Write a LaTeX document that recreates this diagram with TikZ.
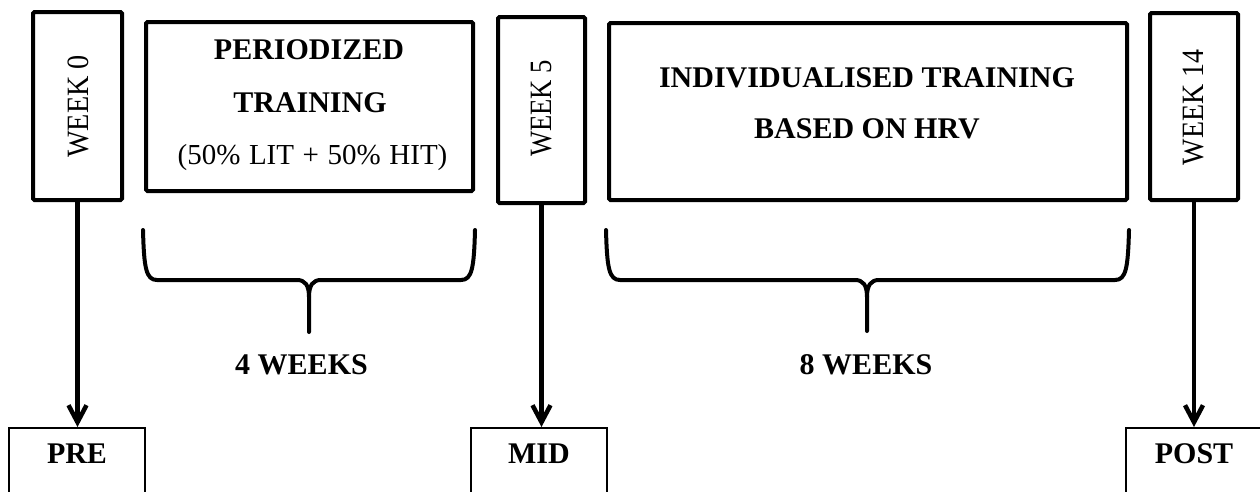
\documentclass[tikz,border=0pt]{standalone}
\usepackage{fontspec}
\setmainfont{Liberation Serif}
\usetikzlibrary{arrows.meta}
\begin{document}
\begin{tikzpicture}[x=1pt,y=-1pt,
  thickbox/.style={draw, line width=4pt, rounded corners=1.5pt, inner sep=0pt},
  btxt/.style={font=\fontsize{30}{36}\selectfont\bfseries, inner sep=0pt, anchor=base},
  rtxt/.style={font=\fontsize{29}{34}\selectfont, inner sep=0pt, anchor=base},
  wtxt/.style={font=\fontsize{31}{36}\selectfont, inner sep=0pt, rotate=90},
  botbox/.style={draw, line width=1.5pt, minimum width=136pt, anchor=north,
    font=\fontsize{30}{36}\selectfont\bfseries, text height=19pt, text depth=80pt,
    inner ysep=17pt, inner xsep=0pt},
  arr/.style={line width=4.5pt, -{Straight Barb[length=17pt,width=18pt]}},
  brace/.style={line width=4pt, line cap=round, line join=round}]
\path[use as bounding box] (0,0) rectangle (1260,491);
\clip (0,0) rectangle (1260,491);

% top boxes
\node[thickbox, minimum width=89pt, minimum height=188pt] (w0) at (77.5,106) {};
\node[wtxt] (w0t) at (78.5,106.5) {\scalebox{0.91}[1]{WEEK 0}};

\node[thickbox, minimum width=327pt, minimum height=169pt] (per) at (309.5,106.5) {};
\node[btxt] (per1) at (309,59) {PERIODIZED};
\node[btxt] (per2) at (310,112) {TRAINING};
\node[rtxt] (per3) at (312.5,164) {\spaceskip=8.6pt\relax (50\% LIT + 50\% HIT)};

\node[thickbox, minimum width=87pt, minimum height=186pt] (w5) at (541.5,110) {};
\node[wtxt] (w5t) at (542,108.5) {\scalebox{0.86}[1]{WEEK 5}};

\node[thickbox, minimum width=518pt, minimum height=177pt] (ind) at (868,111.5) {};
\node[btxt] (ind1) at (867,87) {INDIVIDUALISED TRAINING};
\node[btxt] (ind2) at (867,138) {BASED ON HRV};

\node[thickbox, minimum width=88pt, minimum height=187pt] (w14) at (1194,106.5) {};
\node[wtxt] (w14t) at (1193.5,107.5) {\scalebox{0.9}[1]{WEEK 14}};

% bottom boxes
\node[botbox] (pre) at (77,427) {PRE};
\node[botbox] (mid) at (539,427) {MID};
\node[botbox] (post) at (1194,427) {POST};

% arrows
\draw[arr] (w0.south) -- (w0.south |- pre.north);
\draw[arr] (w5.south) -- (w5.south |- mid.north);
\draw[arr] (w14.south) -- (w14.south |- post.north);

% braces
\draw[brace] (143,230) .. controls (144,268) and (146,280) .. (157,280) -- (297,280)
  .. controls (305,280) and (309,285) .. (309,297) -- (309,332);
\draw[brace] (475,230) .. controls (474,268) and (472,280) .. (461,280) -- (321,280)
  .. controls (313,280) and (309,285) .. (309,297);
\draw[brace] (606,230) .. controls (607,268) and (609,280) .. (620,280) -- (855,280)
  .. controls (863,280) and (867,285) .. (867,297) -- (867,331);
\draw[brace] (1129,230) .. controls (1128,268) and (1126,280) .. (1115,280) -- (879,280)
  .. controls (871,280) and (867,285) .. (867,297);

\node[btxt] (l4) at (301.5,374) {4 WEEKS};
\node[btxt] (l8) at (866,374) {8 WEEKS};
\end{tikzpicture}
\end{document}
